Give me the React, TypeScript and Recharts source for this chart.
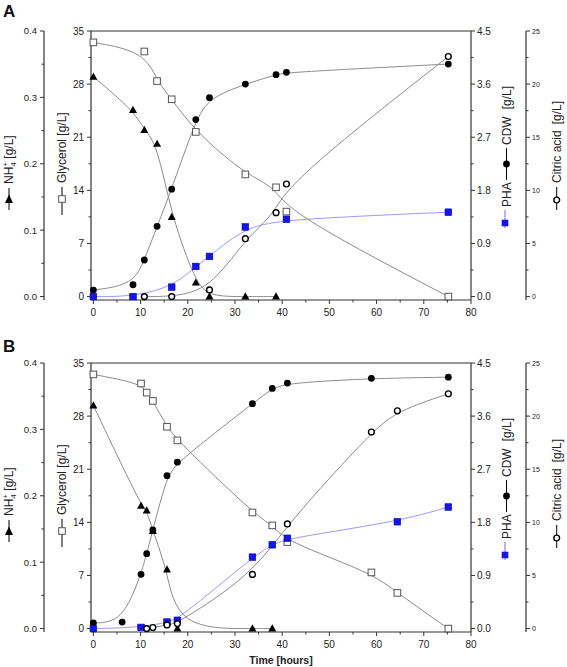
import { ComposedChart, Line, XAxis, YAxis, ReferenceLine } from 'recharts';

// ---- panel A: sampling times [h] and measured values ----
const timesA = [0, 8.4, 10.8, 13.5, 16.6, 21.7, 24.6, 32.2, 38.7, 40.9, 75.2];
const nh4A = [0.331, 0.281, 0.251, 0.23, 0.12, 0.021, 0, 0, 0, null, null];
const glyA = [33.5, null, 32.3, 28.4, 26.0, 21.7, null, 16.1, 14.4, 11.2, 0];
const cdwA = [0.11, 0.2, 0.62, 1.19, 1.82, 3.0, 3.37, 3.6, 3.76, 3.8, 3.94];
const phaA = [0, 0, null, null, 0.16, 0.51, 0.68, 1.18, null, 1.31, 1.43];
const citA = [null, null, 0, null, 0, null, 0.63, 5.45, 7.9, 10.6, 22.6];

// ---- panel B ----
const timesB = [0, 6.1, 10.1, 11.3, 12.6, 15.6, 17.8, 33.7, 37.9, 41.1, 58.9, 64.4, 75.2];
const nh4B = [0.336, null, 0.185, 0.178, 0.147, 0.089, 0, 0, 0, null, null, null, null];
const glyB = [33.5, null, 32.3, 31.1, 30.0, 26.6, 24.8, 15.3, 13.6, 11.4, 7.4, 4.7, 0];
const cdwB = [0.095, 0.11, 0.92, 1.27, 1.67, 2.59, 2.82, 3.81, 4.07, 4.16, 4.24, null, 4.26];
const phaB = [0, null, 0.02, null, null, 0.11, 0.14, 1.21, 1.42, 1.53, null, 1.81, 2.06];
const citB = [null, null, null, 0, 0.1, 0.35, 0.47, 5.1, null, 9.85, 18.5, 20.5, 22.1];

// ---- ticks ----
const xMajor = [0, 10, 20, 30, 40, 50, 60, 70, 80];
const xTicks = [0, 5, 10, 15, 20, 25, 30, 35, 40, 45, 50, 55, 60, 65, 70, 75, 80];
const nh4Major = [0, 0.1, 0.2, 0.3, 0.4];
const nh4Ticks = [0, 0.05, 0.1, 0.15, 0.2, 0.25, 0.3, 0.35, 0.4];
const glyMajor = [0, 7, 14, 21, 28, 35];
const glyTicks = [0, 3.5, 7, 10.5, 14, 17.5, 21, 24.5, 28, 31.5, 35];
const cdwMajor = [0, 0.9, 1.8, 2.7, 3.6, 4.5];
const cdwTicks = [0, 0.45, 0.9, 1.35, 1.8, 2.25, 2.7, 3.15, 3.6, 4.05, 4.5];
const citMajor = [0, 5, 10, 15, 20, 25];
const citTicks = [0, 2.5, 5, 7.5, 10, 12.5, 15, 17.5, 20, 22.5, 25];

const FONT = '"Liberation Sans", Arial, sans-serif';
const AXIS = '#333';
const TXT = '#222';
const LINE = '#8c8c8c';
const BLUE = '#1414f0';
const TS = 4; // tickSize
const TM = 3; // tickMargin

function rows(t: number[], nh4: any[], gly: any[], cdw: any[], pha: any[], cit: any[]) {
  return t.map((v, i) => ({ t: v, nh4: nh4[i], gly: gly[i], cdw: cdw[i], pha: pha[i], cit: cit[i] }));
}

const isMajor = (list: number[], v: number) => list.some((m) => Math.abs(m - v) < 1e-6);

function yTick(side: 'left' | 'right', majors: number[], size: number, digits: number) {
  return (p: any) => {
    const v = p.payload.value;
    const major = isMajor(majors, v);
    const lx = side === 'left' ? p.x + TS + TM : p.x - TS - TM;
    const len = major ? 4 : 2.5;
    const x2 = side === 'left' ? lx - len : lx + len;
    return (
      <g>
        <line x1={lx} x2={x2} y1={p.y} y2={p.y} stroke={AXIS} strokeWidth={1} />
        {major ? (
          <text x={side === 'left' ? lx - 7 : lx + 6} y={p.y + size * 0.36} textAnchor={side === 'left' ? 'end' : 'start'}
            fontSize={size} fontFamily={FONT} fill={TXT}>{v.toFixed(digits)}</text>
        ) : null}
      </g>
    );
  };
}

const xTick = (p: any) => {
  const v = p.payload.value;
  const major = isMajor(xMajor, v);
  const ly = p.y - TS - TM;
  return (
    <g>
      <line x1={p.x} x2={p.x} y1={ly} y2={ly + (major ? 4 : 2.5)} stroke={AXIS} strokeWidth={1} />
      {major ? (
        <text x={p.x} y={ly + 15.5} textAnchor="middle" fontSize={10} fontFamily={FONT} fill={TXT}>{v}</text>
      ) : null}
    </g>
  );
};

// ---- markers ----
const skip = (p: any) => p.cy == null || p.value == null || Number.isNaN(p.cy);
const triDot = (p: any) => skip(p) ? <g key={p.index} /> : (
  <polygon key={p.index} points={`${p.cx},${p.cy - 4.2} ${p.cx - 4},${p.cy + 3} ${p.cx + 4},${p.cy + 3}`} fill="#000" />
);
const openSq = (p: any) => skip(p) ? <g key={p.index} /> : (
  <rect key={p.index} x={p.cx - 3.3} y={p.cy - 3.3} width={6.6} height={6.6} fill="#fff" stroke="#555" strokeWidth={1} />
);
const blueSq = (p: any) => skip(p) ? <g key={p.index} /> : (
  <rect key={p.index} x={p.cx - 3.3} y={p.cy - 3.3} width={6.6} height={6.6} fill={BLUE} stroke="#0000b0" strokeWidth={0.6} />
);
const fullDot = (p: any) => skip(p) ? <g key={p.index} /> : <circle key={p.index} cx={p.cx} cy={p.cy} r={3.4} fill="#000" />;
const openDot = (p: any) => skip(p) ? <g key={p.index} /> : (
  <circle key={p.index} cx={p.cx} cy={p.cy} r={2.9} fill="#fff" stroke="#000" strokeWidth={1.4} />
);

// ---- rotated axis titles (local x runs upward on screen) ----
const tStyle = { fontSize: 12, fontFamily: FONT, fill: TXT };

function Nh4Title({ cx, bottom }: { cx: number; bottom: number }) {
  return (
    <g transform={`translate(${cx},${bottom}) rotate(-90)`}>
      <line x1={0} x2={22} y1={0} y2={0} stroke="#000" />
      <polygon points="15.5,0 7,-4 7,4" fill="#000" />
      <text x={26} y={4.3} {...tStyle}>
        NH<tspan fontSize={8} dy={3}>4</tspan><tspan fontSize={8} dx={-4.5} dy={-8}>+</tspan><tspan dy={5}> [g/L]</tspan>
      </text>
    </g>
  );
}

function GlyTitle({ cx, bottom }: { cx: number; bottom: number }) {
  return (
    <g transform={`translate(${cx},${bottom}) rotate(-90)`}>
      <line x1={0} x2={28} y1={0} y2={0} stroke="#000" />
      <rect x={12.7} y={-3.3} width={6.6} height={6.6} fill="#fff" stroke="#555" />
      <text x={32} y={4.3} {...tStyle}>Glycerol [g/L]</text>
    </g>
  );
}

function CdwTitle({ cx, bottom }: { cx: number; bottom: number }) {
  return (
    <g transform={`translate(${cx},${bottom}) rotate(-90)`}>
      <line x1={0} x2={18} y1={-1.5} y2={-1.5} stroke="#6a6aff" />
      <rect x={1.7} y={-4.8} width={6.6} height={6.6} fill={BLUE} />
      <text x={21} y={4.3} {...tStyle}>PHA</text>
      <line x1={48} x2={80} y1={0} y2={0} stroke="#000" />
      <circle cx={64} cy={0} r={3.4} fill="#000" />
      <text x={83} y={4.3} {...tStyle}>CDW<tspan dx={7}>[g/L]</tspan></text>
    </g>
  );
}

function CitTitle({ cx, bottom }: { cx: number; bottom: number }) {
  return (
    <g transform={`translate(${cx},${bottom}) rotate(-90)`}>
      <line x1={0} x2={23} y1={0} y2={0} stroke="#000" />
      <circle cx={10} cy={0} r={2.9} fill="#fff" stroke="#000" strokeWidth={1.4} />
      <text x={27} y={4.3} {...tStyle}>Citric acid<tspan dx={6}>[g/L]</tspan></text>
    </g>
  );
}

interface PanelProps {
  data: any[];
  height: number;
  top: number;
  xHeight: number;
  showTime: boolean;
  citBottom: number;
}

function Panel({ data, height, top, xHeight, showTime, citBottom }: PanelProps) {
  const common = { tickLine: false, tickSize: TS, tickMargin: TM, interval: 0 as const, axisLine: { stroke: AXIS, strokeWidth: 1.2 } };
  return (
    <ComposedChart width={567} height={height} data={data} margin={{ top, right: 0, bottom: 0, left: 0 }}>
      <XAxis dataKey="t" type="number" domain={[-0.5, 80]} ticks={xTicks} tick={xTick} height={xHeight} {...common}
        label={showTime ? (p: any) => (
          <text x={p.viewBox.x + p.viewBox.width / 2} y={p.viewBox.y + 32} textAnchor="middle" fontSize={10.5}
            fontWeight="bold" fontFamily={FONT} fill={TXT}>Time [hours]</text>
        ) : undefined} />
      <YAxis yAxisId="gly" orientation="left" width={47} domain={[-0.45, 35]} ticks={glyTicks}
        tick={yTick('left', glyMajor, 10, 0)} {...common}
        label={() => <GlyTitle cx={62} bottom={top + 184} />} />
      <YAxis yAxisId="nh4" orientation="left" width={44} domain={[-0.0052, 0.4]} ticks={nh4Ticks}
        tick={yTick('left', nh4Major, 9.5, 1)} {...common}
        label={() => <Nh4Title cx={9} bottom={top + 179} />} />
      <YAxis yAxisId="cdw" orientation="right" width={55} domain={[-0.058, 4.5]} ticks={cdwTicks}
        tick={yTick('right', cdwMajor, 10, 1)} {...common}
        label={() => <CdwTitle cx={506.5} bottom={top + 197} />} />
      <YAxis yAxisId="cit" orientation="right" width={41} domain={[-0.32, 25]} ticks={citTicks}
        tick={yTick('right', citMajor, 7, 0)} {...common}
        label={() => <CitTitle cx={556.7} bottom={top + citBottom} />} />
      <ReferenceLine yAxisId="gly" y={35} stroke={AXIS} strokeWidth={1.2} />
      <Line yAxisId="gly" dataKey="gly" type="basis" stroke={LINE} strokeWidth={1} connectNulls dot={openSq} isAnimationActive={false} />
      <Line yAxisId="nh4" dataKey="nh4" type="basis" stroke={LINE} strokeWidth={1} connectNulls dot={triDot} isAnimationActive={false} />
      <Line yAxisId="cdw" dataKey="cdw" type="basis" stroke={LINE} strokeWidth={1} connectNulls dot={fullDot} isAnimationActive={false} />
      <Line yAxisId="cdw" dataKey="pha" type="basis" stroke="#9a9aff" strokeWidth={1} connectNulls dot={blueSq} isAnimationActive={false} />
      <Line yAxisId="cit" dataKey="cit" type="basis" stroke={LINE} strokeWidth={1} connectNulls dot={openDot} isAnimationActive={false} />
    </ComposedChart>
  );
}

const letter = { position: 'absolute' as const, left: 3, fontFamily: FONT, fontWeight: 'bold' as const, fontSize: 17, lineHeight: '17px', color: '#111' };

export default function App() {
  return (
    <div style={{ position: 'absolute', left: 0, top: 0, width: 567, height: 667, background: '#fff' }}>
      <div style={{ ...letter, top: 2.5 }}>A</div>
      <div style={{ ...letter, top: 337.5 }}>B</div>
      <div style={{ position: 'absolute', left: 0, top: 0 }}>
        <Panel data={rows(timesA, nh4A, glyA, cdwA, phaA, citA)} height={322} top={31} xHeight={22} showTime={false} citBottom={179} />
      </div>
      <div style={{ position: 'absolute', left: 0, top: 330 }}>
        <Panel data={rows(timesB, nh4B, glyB, cdwB, phaB, citB)} height={337} top={33} xHeight={35} showTime citBottom={185} />
      </div>
    </div>
  );
}
